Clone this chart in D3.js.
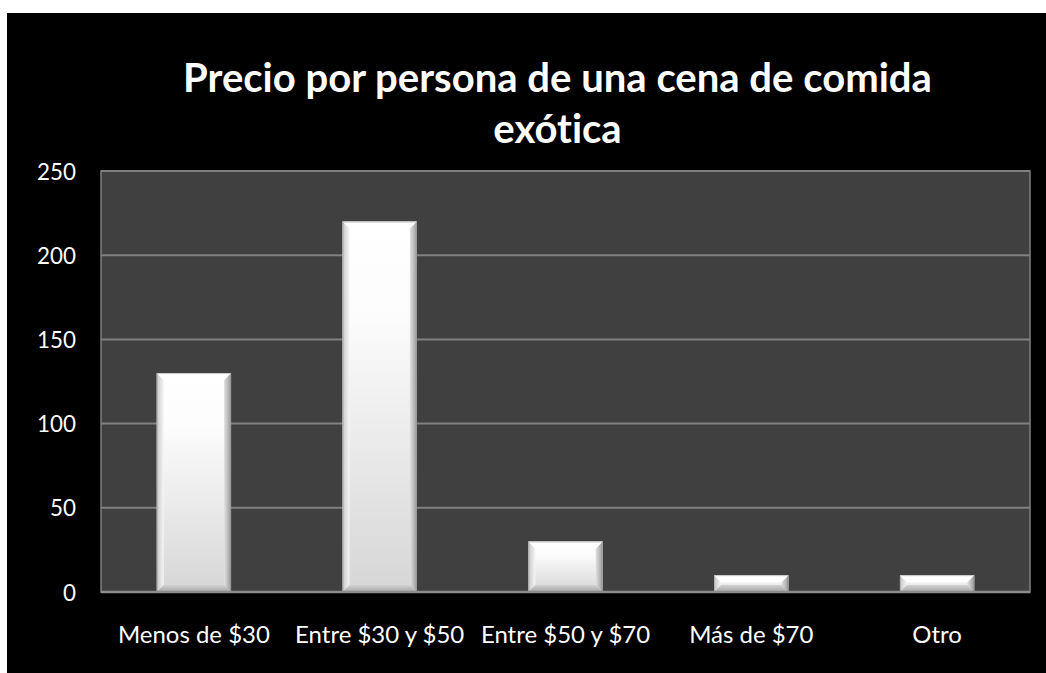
<!DOCTYPE html>
<html>
<head>
<meta charset="utf-8">
<script src="https://cdn.jsdelivr.net/npm/d3@7"></script>
<style>
  html, body { margin: 0; padding: 0; background: #ffffff; }
  svg { display: block; }
  text { font-family: Lato, "Open Sans", "DejaVu Sans", sans-serif; fill: #ffffff; font-variant-ligatures: none; font-feature-settings: "liga" 0, "clig" 0; }
</style>
</head>
<body>
<svg id="chart" width="1046" height="673"></svg>
<script>
// Survey results: price per person of an exotic dinner
const categories = ["Menos de $30", "Entre $30 y $50", "Entre $50 y $70", "Más de $70", "Otro"];
const counts = [130, 220, 30, 10, 10];
const yTicks = [0, 50, 100, 150, 200, 250];
const titleLines = ["Precio por persona de una cena de comida", "exótica"];

const svg = d3.select("#chart");
const W = 1046, H = 673;

// black chart background, inset from the top-left
svg.append("rect").attr("x", 7).attr("y", 13).attr("width", W - 7).attr("height", H - 13).attr("fill", "#000000");

const plot = { left: 101, top: 171, right: 1030, bottom: 592 };

const x = d3.scaleBand()
  .domain(categories)
  .range([plot.left, plot.right])
  .paddingInner(0.6)
  .paddingOuter(0.3);

const xc = d3.scaleBand().domain(categories).range([plot.left, plot.right]).padding(0);

const y = d3.scaleLinear().domain([0, 250]).range([plot.bottom, plot.top]);

// gradients for the bevelled bars
const defs = svg.append("defs");
const face = defs.append("linearGradient").attr("id", "face").attr("x1", 0).attr("y1", 0).attr("x2", 0).attr("y2", 1);
face.append("stop").attr("offset", "0%").attr("stop-color", "#ffffff");
face.append("stop").attr("offset", "25%").attr("stop-color", "#fcfcfc");
face.append("stop").attr("offset", "100%").attr("stop-color", "#d6d6d6");

const leftEdge = defs.append("linearGradient").attr("id", "leftEdge").attr("x1", 0).attr("y1", 0).attr("x2", 1).attr("y2", 0);
leftEdge.append("stop").attr("offset", "0%").attr("stop-color", "#c8c8c8");
leftEdge.append("stop").attr("offset", "100%").attr("stop-color", "#f6f6f6");

const rightEdge = defs.append("linearGradient").attr("id", "rightEdge").attr("x1", 1).attr("y1", 0).attr("x2", 0).attr("y2", 0);
rightEdge.append("stop").attr("offset", "0%").attr("stop-color", "#9a9a9a");
rightEdge.append("stop").attr("offset", "100%").attr("stop-color", "#e2e2e2");

const bottomEdge = defs.append("linearGradient").attr("id", "bottomEdge").attr("x1", 0).attr("y1", 1).attr("x2", 0).attr("y2", 0);
bottomEdge.append("stop").attr("offset", "0%").attr("stop-color", "#a6a6a6");
bottomEdge.append("stop").attr("offset", "100%").attr("stop-color", "#d2d2d2");

// plot area
svg.append("rect")
  .attr("x", plot.left).attr("y", plot.top)
  .attr("width", plot.right - plot.left).attr("height", plot.bottom - plot.top)
  .attr("fill", "#404040")
  .attr("stroke", "#7f7f7f").attr("stroke-width", 1.5);

// horizontal gridlines
svg.append("g").selectAll("line")
  .data(yTicks.filter(d => d > 0))
  .join("line")
  .attr("x1", plot.left).attr("x2", plot.right)
  .attr("y1", d => y(d)).attr("y2", d => y(d))
  .attr("stroke", "#808080").attr("stroke-width", 2);

// bars with a bevelled face
const bars = svg.append("g").selectAll("g")
  .data(categories.map((c, i) => ({ c, v: counts[i] })))
  .join("g");

bars.each(function (d) {
  const g = d3.select(this);
  const x0 = x(d.c), w = x.bandwidth();
  const y0 = y(d.v), h = y(0) - y(d.v);
  const b = Math.min(7, h / 2, w / 2);
  const x1 = x0 + w, y1 = y0 + h;
  g.append("rect").attr("x", x0).attr("y", y0).attr("width", w).attr("height", h).attr("fill", "url(#face)");
  // left bevel
  g.append("polygon").attr("points", [[x0, y0], [x0 + b, y0 + b], [x0 + b, y1 - b], [x0, y1]].join(" ")).attr("fill", "url(#leftEdge)");
  // right bevel
  g.append("polygon").attr("points", [[x1, y0], [x1 - b, y0 + b], [x1 - b, y1 - b], [x1, y1]].join(" ")).attr("fill", "url(#rightEdge)");
  // top bevel
  g.append("polygon").attr("points", [[x0, y0], [x1, y0], [x1 - b, y0 + b], [x0 + b, y0 + b]].join(" ")).attr("fill", "#ffffff");
  // bottom bevel
  g.append("polygon").attr("points", [[x0, y1], [x1, y1], [x1 - b, y1 - b], [x0 + b, y1 - b]].join(" ")).attr("fill", "url(#bottomEdge)");
  // thin outline
  g.append("rect").attr("x", x0 + 0.5).attr("y", y0 + 0.5).attr("width", w - 1).attr("height", h - 1)
    .attr("fill", "none").attr("stroke", "#8f8f8f").attr("stroke-opacity", 0.5).attr("stroke-width", 1);
});

// category axis line
svg.append("line")
  .attr("x1", plot.left).attr("x2", plot.right)
  .attr("y1", y(0)).attr("y2", y(0))
  .attr("stroke", "#8c8c8c").attr("stroke-width", 2.5);

// scale a text element's font size so its width matches a target
function fitSize(text, weight, target, base) {
  const t = svg.append("text").attr("font-size", base).attr("font-weight", weight).text(text);
  const wdt = t.node().getComputedTextLength();
  t.remove();
  return base * target / wdt;
}

// y axis labels
const yAxis = d3.axisLeft(y).tickValues(yTicks).tickSize(0).tickPadding(0);
const ySize = fitSize("250", "normal", 39, 20);
const yg = svg.append("g").attr("transform", `translate(76,0)`).call(yAxis);
yg.select(".domain").remove();
yg.selectAll("text")
  .attr("font-size", ySize)
  .attr("font-family", 'Lato, "Open Sans", sans-serif')
  .attr("fill", "#ffffff")
  .attr("dy", "0.36em");

// category labels
const xSize = fitSize("Menos de $30", "normal", 152, 20);
svg.append("g").selectAll("text")
  .data(categories)
  .join("text")
  .attr("x", d => xc(d) + xc.bandwidth() / 2)
  .attr("y", 643)
  .attr("text-anchor", "middle")
  .attr("font-size", xSize)
  .text(d => d);

// title
const tSize = fitSize(titleLines[0], "bold", 749, 36);
svg.append("g").selectAll("text")
  .data(titleLines)
  .join("text")
  .attr("x", 557.5)
  .attr("y", (d, i) => 92 + i * 51)
  .attr("text-anchor", "middle")
  .attr("font-weight", "bold")
  .attr("font-size", tSize)
  .text(d => d);
</script>
</body>
</html>
